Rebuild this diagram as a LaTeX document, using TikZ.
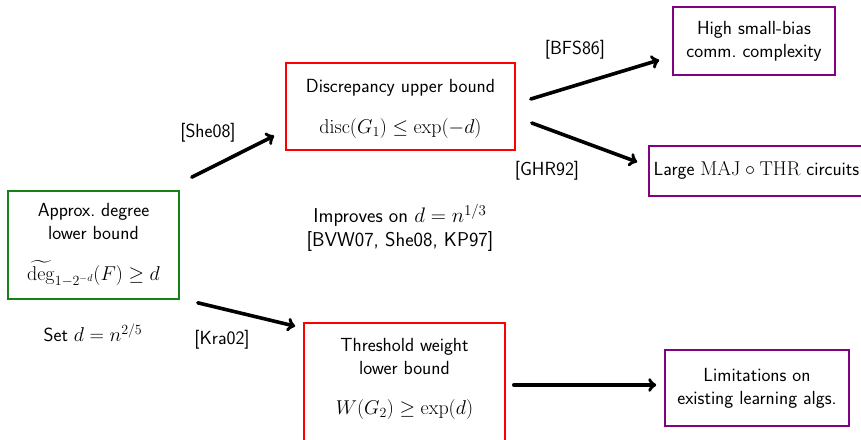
\RequirePackage{fix-cm}
\documentclass[tikz,border=0pt]{standalone}
\usepackage{amsmath, amssymb}
\usepackage{tikz}
\usetikzlibrary{positioning, arrows}
\DeclareMathSizes{19}{20}{14}{10}
\DeclareMathSizes{20}{21}{15}{11}
\definecolor{boxgreen}{RGB}{20,130,20}
\definecolor{boxpurple}{RGB}{130,0,130}
\tikzstyle{arrow} = [line width=3.6pt,->,line cap=round]
\tikzstyle{result} = [draw, line width=1.6pt, align=center, inner sep=0pt]

\begin{document}
\begin{tikzpicture}[x=1pt, y=-1pt, font=\sffamily\fontsize{19}{23}\selectfont]
  \useasboundingbox (0,0) rectangle (861,439);

  % Starting box
  \node[result, draw=boxgreen, minimum width=171pt, minimum height=108pt] (approx) at (93.5,245)
    {Approx.~degree\\ lower bound\\[18pt] $\widetilde{\deg}_{1-2^{-d}}(F) \geq d$};
  \node (setd) at (93,333) {Set $d = n^{2/5}$};

  % Middle boxes
  \node[result, draw=red, minimum width=229pt, minimum height=87pt] (disc) at (400.5,106.5)
    {\rule{0pt}{18pt}Discrepancy upper bound\\[18pt] $\operatorname{disc}(G_1) \leq \exp(-d)$};
  \node[result, draw=red, minimum width=201pt, minimum height=132pt] (thr) at (404.5,389)
    {Threshold weight\\ lower bound\\[17pt] $W(G_2) \geq \exp(d)$\\[3pt]};
  \node[align=center, font=\sffamily\fontsize{20}{24}\selectfont] (improves) at (400,228)
    {Improves on $d = n^{1/3}$\\ {[BVW07, She08, KP97]}};

  % Consequences
  \node[result, draw=boxpurple, minimum width=162pt, minimum height=68pt] (comm) at (754,41)
    {High small-bias\\ comm.~complexity};
  \node[result, draw=boxpurple, minimum width=215pt, minimum height=50pt] (circ) at (756.5,171)
    {Large $\mathrm{MAJ} \circ \mathrm{THR}$ circuits};
  \node[result, draw=boxpurple, minimum width=184pt, minimum height=76pt] (learn) at (757,388)
    {Limitations on\\ existing learning algs.};

  % Arrows
  \draw[arrow] ([shift={(12,-13)}]approx.north east) -- ([shift={(-11,-15)}]disc.south west);
  \draw[arrow] ([shift={(18,3)}]approx.south east) -- ([shift={(-8,4)}]thr.north west);
  \draw[arrow] ([shift={(15,-7.5)}]disc.east) -- ([shift={(-13,19)}]comm.west);
  \draw[arrow] ([shift={(16,16.5)}]disc.east) -- ([shift={(-11,-9)}]circ.west);
  \draw[arrow] ([shift={(8,-4)}]thr.east) -- ([shift={(-8,-3)}]learn.west);

  % Citations
  \node (she) at (208,133) {[She08]};
  \node (kra) at (222,340) {[Kra02]};
  \node (bfs) at (575,50) {[BFS86]};
  \node (ghr) at (547,171) {[GHR92]};
\end{tikzpicture}
\end{document}
